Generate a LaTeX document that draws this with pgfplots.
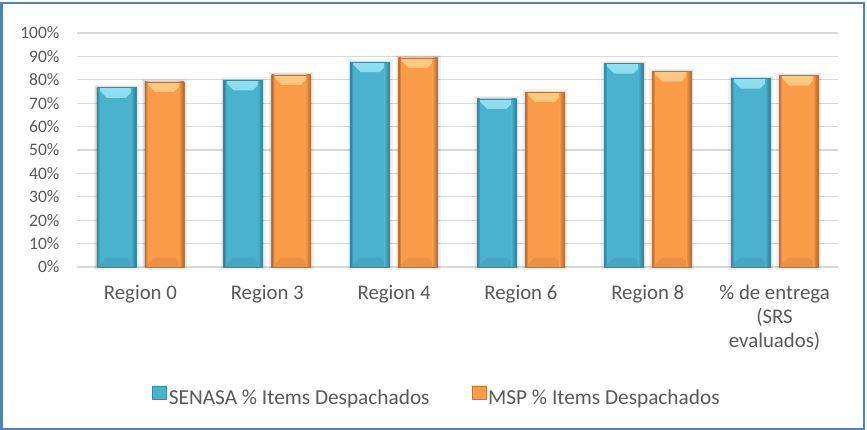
\documentclass[border=0pt]{standalone}
\usepackage{pgfplots}
\pgfplotsset{compat=1.18}
\usepackage{fontspec}
\setmainfont{Carlito}
\definecolor{tealc}{HTML}{4BB2CE}
\definecolor{teall}{HTML}{8EE0F2}
\definecolor{teald}{HTML}{2C7E95}
\definecolor{orc}{HTML}{F99B48}
\definecolor{orl}{HTML}{FFC983}
\definecolor{ord}{HTML}{B0662C}
\definecolor{textgray}{HTML}{595959}
\definecolor{gridgray}{HTML}{D9D9D9}
\definecolor{framec}{HTML}{4F81BD}
\tikzset{
 barnode/.style n args={4}{anchor=north, inner sep=0pt, outer sep=0pt, xshift=#4,
   minimum width=39bp, minimum height={\rawy*2.34bp},
   fill=#1, draw=#3!75!#1, line width=0.6bp,
   preaction={fill=none, draw=black, draw opacity=0.05, line width=6bp},
   preaction={fill=none, draw=black, draw opacity=0.08, line width=3bp},
   path picture={
   \shade[path picture={}, draw=none, top color=#2, bottom color=#1] (path picture bounding box.north west) -- (path picture bounding box.north east) -- ([xshift=-10bp,yshift=-10bp]path picture bounding box.north east) -- ([xshift=10bp,yshift=-10bp]path picture bounding box.north west) -- cycle;
   \fill[path picture={}, draw=none, black, fill opacity=0.06] (path picture bounding box.south west) -- ([xshift=9bp,yshift=9bp]path picture bounding box.south west) -- ([xshift=-9bp,yshift=9bp]path picture bounding box.south east) -- (path picture bounding box.south east) -- cycle;
   \shade[path picture={}, draw=none, left color=#1, right color=#3] ([xshift=-5bp]path picture bounding box.south east) rectangle (path picture bounding box.north east);
   \shade[path picture={}, draw=none, left color=#3, right color=#1] (path picture bounding box.south west) rectangle ([xshift=2.5bp]path picture bounding box.north west);
 }}
}
\begin{document}
\begin{tikzpicture}
\fill[white] (0bp,0bp) rectangle (867bp,430bp);
\draw[framec, line width=2bp] (1.5bp,1bp) rectangle (864bp,427bp);
\begin{axis}[
  at={(77bp,163bp)}, anchor=south west,
  scale only axis, width=761bp, height=234bp,
  xmin=-0.5, xmax=5.5, ymin=0, ymax=100,
  ybar=9bp, bar width=39bp,
  xtick={0,...,5},
  xticklabels={Region 0, Region 3, Region 4, Region 6, Region 8, {\% de entrega\\(SRS\\evaluados)}},
  xticklabel style={align=center, font=\fontsize{20.8bp}{24bp}\selectfont, text=textgray, anchor=north, yshift=-15bp},
  ytick={0,10,...,100},
  yticklabel={\pgfmathprintnumber{\tick}\%},
  yticklabel style={font=\fontsize{17.5bp}{20bp}\selectfont, text=textgray, xshift=-14bp},
  /pgf/number format/assume math mode=true,
  major tick length=0pt,
  ymajorgrids, grid style={gridgray, line width=1.2bp},
  axis line style={draw=none},
  legend columns=2,
  legend style={at={(0.473,-0.5556)}, anchor=center, draw=none, fill=none,
    font=\fontsize{21.3bp}{24bp}\selectfont, text=textgray,
    /tikz/every even column/.append style={column sep=40bp},
    /tikz/every odd column/.append style={column sep=0bp}},
  clip=false,
  visualization depends on=rawy\as\rawy,
  nodes near coords={},
]
\addplot[fill=tealc, draw=teald, line width=0.6bp,
  every node near coord/.style={barnode={tealc}{teall}{teald}{-24bp}},
  legend image code/.code={\fill[fill=tealc] (0bp,-1bp) rectangle (14bp,12bp); \fill[fill=teall] (0bp,12bp) -- (14bp,12bp) -- (9.5bp,7.5bp) -- (4.5bp,7.5bp) -- cycle; \draw[draw=teald!70!tealc,line width=0.5bp] (0bp,-1bp) rectangle (14bp,12bp);}]
  coordinates {(0,76.6) (1,79.8) (2,87.6) (3,71.8) (4,86.9) (5,80.5)};
\addlegendentry{SENASA \% Items Despachados}
\addplot[fill=orc, draw=ord, line width=0.6bp,
  every node near coord/.style={barnode={orc}{orl}{ord}{24bp}},
  legend image code/.code={\fill[fill=orc] (0bp,-1bp) rectangle (14bp,12bp); \fill[fill=orl] (0bp,12bp) -- (14bp,12bp) -- (9.5bp,7.5bp) -- (4.5bp,7.5bp) -- cycle; \draw[draw=ord!70!orc,line width=0.5bp] (0bp,-1bp) rectangle (14bp,12bp);}]
  coordinates {(0,79.1) (1,82.1) (2,89.4) (3,74.7) (4,83.5) (5,81.8)};
\addlegendentry{MSP \% Items Despachados}
\end{axis}
\end{tikzpicture}
\end{document}
